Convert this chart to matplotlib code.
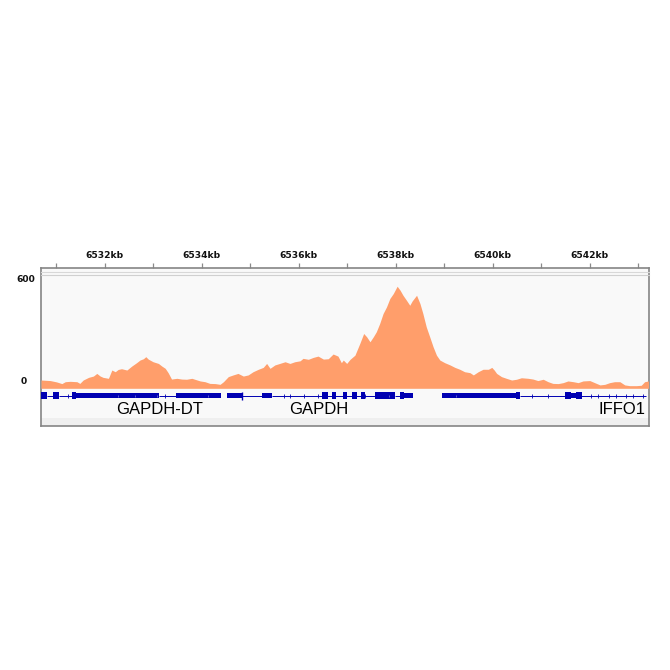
import matplotlib
matplotlib.use("Agg")
import matplotlib.pyplot as plt
from matplotlib import transforms

# ---------------- data ----------------
cov_kb = [6530.69, 6530.88, 6531.01, 6531.12, 6531.19, 6531.29, 6531.43, 6531.49, 6531.56, 6531.67,
          6531.77, 6531.84, 6531.91, 6531.97, 6532.08, 6532.15, 6532.22, 6532.28, 6532.35, 6532.46,
          6532.56, 6532.66, 6532.73, 6532.80, 6532.85, 6532.90, 6533.00, 6533.11, 6533.18, 6533.25,
          6533.31, 6533.38, 6533.49, 6533.59, 6533.69, 6533.80, 6533.86, 6533.97, 6534.07, 6534.17,
          6534.28, 6534.38, 6534.45, 6534.55, 6534.65, 6534.75, 6534.86, 6534.96, 6535.06, 6535.17,
          6535.27, 6535.34, 6535.41, 6535.51, 6535.61, 6535.72, 6535.82, 6535.92, 6536.03, 6536.09,
          6536.20, 6536.30, 6536.40, 6536.51, 6536.61, 6536.71, 6536.81, 6536.88, 6536.92, 6536.99,
          6537.06, 6537.16, 6537.26, 6537.34, 6537.40, 6537.47, 6537.54, 6537.60, 6537.67, 6537.74,
          6537.81, 6537.88, 6537.95, 6538.03, 6538.09, 6538.15, 6538.22, 6538.29, 6538.34, 6538.43,
          6538.50, 6538.56, 6538.63, 6538.70, 6538.77, 6538.84, 6538.91, 6539.01, 6539.12, 6539.22,
          6539.32, 6539.42, 6539.53, 6539.60, 6539.70, 6539.80, 6539.91, 6539.98, 6540.03, 6540.08,
          6540.18, 6540.28, 6540.39, 6540.49, 6540.59, 6540.73, 6540.83, 6540.93, 6541.04, 6541.14,
          6541.24, 6541.35, 6541.45, 6541.55, 6541.66, 6541.76, 6541.86, 6542.00, 6542.10, 6542.21,
          6542.31, 6542.41, 6542.51, 6542.62, 6542.72, 6542.82, 6542.96, 6543.06, 6543.13, 6543.21]
cov_val = [44, 41, 34, 25, 35, 37, 35, 26, 44, 58,
           65, 79, 65, 58, 53, 97, 88, 100, 104, 97,
           118, 136, 150, 157, 168, 155, 141, 132, 118, 106,
           83, 49, 53, 49, 48, 53, 48, 39, 35, 26,
           25, 21, 35, 62, 71, 79, 65, 71, 88, 101,
           111, 132, 106, 124, 132, 141, 132, 141, 146, 159,
           154, 164, 171, 155, 157, 182, 171, 136, 150, 132,
           154, 176, 238, 291, 274, 247, 274, 300, 344, 397,
           432, 477, 503, 542, 521, 494, 468, 441, 464, 494,
           450, 397, 326, 274, 221, 176, 150, 136, 124, 111,
           101, 88, 83, 71, 88, 101, 101, 111, 97, 79,
           62, 53, 44, 48, 56, 53, 49, 41, 48, 35,
           26, 25, 30, 39, 35, 30, 39, 41, 30, 18,
           21, 30, 35, 35, 18, 14, 14, 16, 35, 39]

x_min_kb, x_max_kb = 6530.69, 6543.21
tick_kb = list(range(6531, 6544))
tick_labels = [f"{k}kb" if k % 2 == 0 else "" for k in tick_kb]
data_range = [0, 600]

# gene model (kb)
tall_exons = [(6530.69, 6530.808), (6530.932, 6531.068), (6531.336, 6531.412),
              (6536.491, 6536.602), (6536.685, 6536.773), (6536.911, 6536.994),
              (6537.097, 6537.200), (6537.289, 6537.371), (6537.577, 6537.990),
              (6538.093, 6538.161), (6540.485, 6540.567), (6541.495, 6541.619),
              (6541.722, 6541.839)]
thin_exons = [(6531.412, 6533.130), (6533.468, 6534.396), (6534.520, 6534.841),
              (6535.254, 6535.460), (6538.161, 6538.355), (6538.953, 6540.485),
              (6541.619, 6541.722)]
introns = [(6530.808, 6530.932), (6531.068, 6531.336), (6533.130, 6533.468),
           (6534.841, 6535.254), (6535.460, 6537.577), (6537.990, 6538.093),
           (6540.567, 6543.165)]
strand_marks = [6531.241, 6533.24, 6535.69, 6535.83, 6536.11, 6536.40, 6537.36, 6537.85,
                6540.80, 6541.14, 6542.03, 6542.17, 6542.39, 6542.53, 6542.75, 6542.89, 6543.10]
exon_marks = [6532.27, 6532.62, 6533.08, 6534.14, 6537.86, 6539.25]
tall_marker = [6534.841]
gene_names = ["GAPDH-DT", "GAPDH", "IFFO1"]
gene_label_kb = [6533.14, 6536.42, 6543.14]
gene_label_ha = ["center", "center", "right"]

# ---------------- figure ----------------
W = H = 670
fig = plt.figure(figsize=(6.7, 6.7), dpi=100)
fig.patch.set_facecolor("white")

def rect(x0, y0, x1, y1):
    return [x0 / W, 1 - y1 / H, (x1 - x0) / W, (y1 - y0) / H]

blue = "#0000B2"
orange = "#FF9E6B"

# outer frame with ruler
ax_frame = fig.add_axes(rect(41, 268.3, 648.5, 425.5))
ax_frame.set_facecolor("#F9F9F9")
ax_frame.set_xlim(x_min_kb, x_max_kb)
ax_frame.set_ylim(0, 1)
ax_frame.set_yticks([])
ax_frame.xaxis.tick_top()
ax_frame.set_xticks(tick_kb)
ax_frame.set_xticklabels(tick_labels, fontsize=6.6, fontweight="bold", family="DejaVu Sans")
ax_frame.tick_params(axis="x", direction="out", length=3.6, width=0.9, color="#8A8A8A",
                     pad=2.2, labelcolor="#111111")
for s in ax_frame.spines.values():
    s.set_color("#858585")
    s.set_linewidth(1.2)
# lower light band
ax_frame.axhspan(0, 7.5 / 157.2, color="#EFEFEF", lw=0)

# coverage track
ax_cov = fig.add_axes(rect(41, 275.3, 648.5, 388.3))
ax_cov.patch.set_alpha(0)
ax_cov.set_xlim(x_min_kb, x_max_kb)
ax_cov.set_ylim(data_range)
ax_cov.fill_between(cov_kb, 0, cov_val, color=orange, lw=0, step=None)
ax_cov.axhline(data_range[1], color="#D0D0D0", lw=0.8, clip_on=False)
ax_cov.axhline(data_range[1] * 1.027, color="#D8D8D8", lw=0.8, clip_on=False)
ax_cov.axis("off")
to600 = transforms.blended_transform_factory(fig.transFigure, ax_cov.transData)
ax_cov.text(25.5 / W, data_range[1], str(data_range[1]), transform=to600,
            ha="center", va="top", fontsize=6.6, fontweight="bold", color="#111111")
ax_cov.text(23.5 / W, data_range[0], str(data_range[0]),
            transform=transforms.offset_copy(to600, fig=fig, x=0, y=2.0, units="dots"),
            ha="center", va="bottom", fontsize=6.6, fontweight="bold", color="#111111")

# gene track (y in pixels below coverage baseline)
ax_gene = fig.add_axes(rect(41, 388.3, 648.5, 418))
ax_gene.patch.set_alpha(0)
ax_gene.set_xlim(x_min_kb, x_max_kb)
ax_gene.set_ylim(29.7, 0)
ax_gene.axis("off")
yc = 7.2
for a, b in introns:
    ax_gene.plot([a, b], [yc, yc], color=blue, lw=0.7, solid_capstyle="butt")
ax_gene.broken_barh([(a, b - a) for a, b in thin_exons], (yc - 2.3, 4.6), color=blue, lw=0)
ax_gene.broken_barh([(a, b - a) for a, b in tall_exons], (yc - 3.8, 7.6), color=blue, lw=0)
ax_gene.plot(strand_marks, [yc] * len(strand_marks), ls="none", marker="|", ms=2.2,
             mew=0.6, color=blue)
ax_gene.plot(exon_marks, [yc] * len(exon_marks), ls="none", marker="|", ms=2.0,
             mew=0.5, color="#8080D8")
ax_gene.plot(tall_marker, [yc], ls="none", marker="|", ms=5.5, mew=1.0, color=blue)
for name, kb, ha in zip(gene_names, gene_label_kb, gene_label_ha):
    ax_gene.text(kb, 21.0, name, ha=ha, va="center", fontsize=12,
                 family="Liberation Sans", color="black")

fig.savefig("out.png", dpi=100, facecolor="white")
